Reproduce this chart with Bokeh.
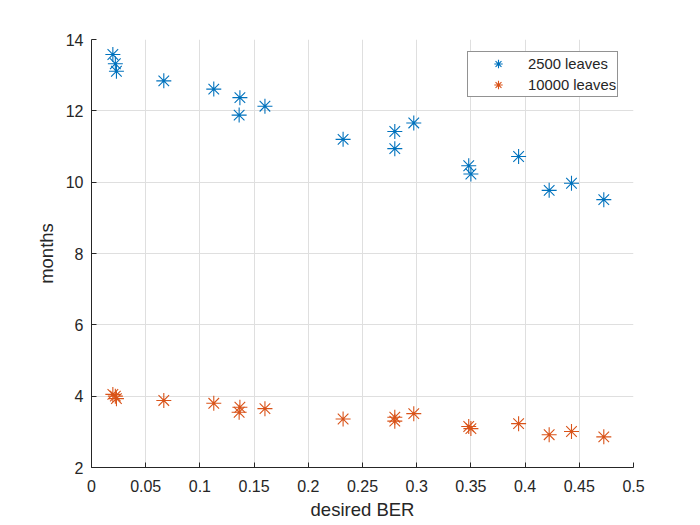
from bokeh.plotting import figure
from bokeh.models import Range1d, FixedTicker, NumeralTickFormatter
from bokeh.embed import file_html
from bokeh.resources import INLINE

# ---- data ----
ber = [0.0197, 0.0220, 0.0230, 0.0667, 0.1128, 0.1369, 0.1362, 0.1600, 0.2321,
       0.2798, 0.2798, 0.2973, 0.3480, 0.3500, 0.3940, 0.4222, 0.4428, 0.4726]
months_2500 = [13.58, 13.32, 13.11, 12.84, 12.61, 12.37, 11.88, 12.13, 11.20,
               11.42, 10.94, 11.66, 10.46, 10.23, 10.72, 9.77, 9.97, 9.51]
months_10000 = [4.05, 4.00, 3.93, 3.88, 3.80, 3.69, 3.55, 3.65, 3.36,
                3.41, 3.30, 3.51, 3.15, 3.09, 3.23, 2.92, 3.01, 2.86]
series_labels = ["2500 leaves", "10000 leaves"]
x_ticks = [0, 0.05, 0.1, 0.15, 0.2, 0.25, 0.3, 0.35, 0.4, 0.45, 0.5]
y_ticks = [2, 4, 6, 8, 10, 12, 14]
x_label = "desired BER"
y_label = "months"

AX = "#262626"
GRID = "#dfdfdf"
FONT = "Liberation Sans"

p = figure(width=700, height=525, output_backend="svg", toolbar_location=None,
           x_range=Range1d(0, 0.5), y_range=Range1d(2, 14),
           min_border_left=91, min_border_right=67, min_border_top=39,
           min_border_bottom=58)
p.outline_line_color = None
p.background_fill_color = "white"
p.border_fill_color = "white"

p.scatter(ber, months_2500, marker="asterisk", size=15, line_color="#0072BD",
          line_width=1.1, legend_label=series_labels[0])
p.scatter(ber, months_10000, marker="asterisk", size=15, line_color="#D95319",
          line_width=1.1, legend_label=series_labels[1])

p.xaxis.ticker = FixedTicker(ticks=x_ticks)
p.yaxis.ticker = FixedTicker(ticks=y_ticks)
p.xaxis.formatter = NumeralTickFormatter(format="0.[00]")
p.xaxis.axis_label = x_label
p.yaxis.axis_label = y_label

for ax in (p.xaxis[0], p.yaxis[0]):
    ax.axis_line_color = AX
    ax.axis_line_width = 1
    ax.major_tick_line_color = AX
    ax.major_tick_in = 5
    ax.major_tick_out = 0
    ax.minor_tick_line_color = None
    ax.major_label_text_font = FONT
    ax.major_label_text_font_size = "16px"
    ax.major_label_text_color = AX
    ax.axis_label_text_font = FONT
    ax.axis_label_text_font_size = "18.5px"
    ax.axis_label_text_font_style = "normal"
    ax.axis_label_text_color = AX

p.xaxis.major_label_standoff = 12
p.xaxis.axis_label_standoff = 4
p.yaxis.major_label_standoff = 8
p.yaxis.axis_label_standoff = 6

p.xgrid.ticker = FixedTicker(ticks=x_ticks)
p.ygrid.ticker = FixedTicker(ticks=y_ticks)
p.grid.grid_line_color = GRID
p.grid.grid_line_width = 1

lg = p.legend[0]
lg.location = (376, 370)
lg.border_line_color = AX
lg.border_line_width = 1
lg.background_fill_color = "white"
lg.background_fill_alpha = 1
lg.label_text_font = FONT
lg.label_text_font_size = "14.8px"
lg.label_text_color = AX
lg.padding = 1
lg.spacing = 0
lg.margin = 0
lg.label_height = 21
lg.glyph_height = 21
lg.glyph_width = 58
lg.label_standoff = 1

open("out.html", "w").write(file_html(p, INLINE))
